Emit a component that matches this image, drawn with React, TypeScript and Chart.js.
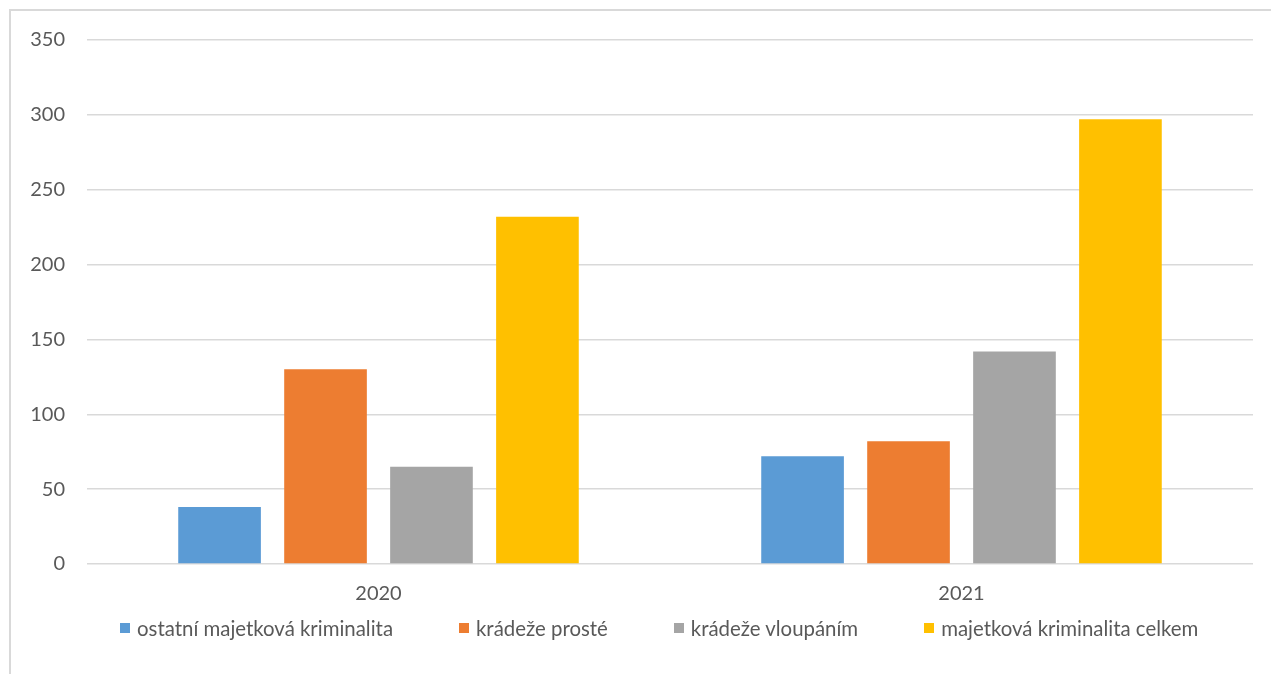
import React, { useEffect, useRef } from "react";
import { Chart, registerables } from "chart.js";

Chart.register(...registerables);

const categories = ["2020", "2021"];
const seriesNames = [
  "ostatní majetková kriminalita",
  "krádeže prosté",
  "krádeže vloupáním",
  "majetková kriminalita celkem",
];
const ostatni = [38, 72];
const kradezeProste = [130, 82];
const kradezeVloupanim = [65, 142];
const celkem = [232, 297];
const colors = ["#5b9bd5", "#ed7d31", "#a5a5a5", "#ffc000"];
const yMax = 350;
const yStep = 50;

const FONT_FAMILY = "Lato, 'Noto Sans', sans-serif";

export default function App() {
  const ref = useRef<HTMLCanvasElement | null>(null);
  useEffect(() => {
    if (!ref.current) return;
    const values = [ostatni, kradezeProste, kradezeVloupanim, celkem];
    const font = { family: FONT_FAMILY, size: 20 };
    const chart = new Chart(ref.current, {
      type: "bar",
      data: {
        labels: categories,
        datasets: seriesNames.map((name, i) => ({
          label: name,
          data: values[i],
          backgroundColor: colors[i],
          borderWidth: 0,
          categoryPercentage: 0.727,
          barPercentage: 0.78,
        })),
      },
      options: {
        animation: false,
        responsive: false,
        maintainAspectRatio: false,
        layout: { padding: { left: 10, right: 18, top: 40, bottom: 50 } },
        plugins: {
          tooltip: { enabled: false },
          legend: { display: false },
        },
        scales: {
          x: {
            grid: { display: false, drawTicks: false },
            border: { display: false },
            ticks: { color: "#595959", font, padding: 18 },
          },
          y: {
            min: 0,
            max: yMax,
            afterFit: (s: any) => {
              s.width = 77;
            },
            grid: { color: "#d9d9d9", lineWidth: 1.5, drawTicks: false },
            border: { display: false },
            ticks: { stepSize: yStep, color: "#595959", font, padding: 22 },
          },
        },
      },
    });
    return () => chart.destroy();
  }, []);
  return (
    <div style={{ position: "fixed", left: 0, top: 0, width: 1271, height: 674, background: "#fff" }}>
      <div
        style={{
          position: "absolute",
          left: 9,
          top: 9,
          width: 1262,
          height: 665,
          borderTop: "2px solid #d9d9d9",
          borderLeft: "2px solid #d9d9d9",
          boxSizing: "border-box",
        }}
      />
      <canvas ref={ref} width={1271} height={674} style={{ position: "absolute", left: 0, top: 0 }} />
      <div
        style={{
          position: "absolute",
          left: 120,
          top: 616,
          height: 24,
          display: "flex",
          alignItems: "center",
          gap: 66,
          fontFamily: FONT_FAMILY,
          fontSize: 20.4,
          lineHeight: "24px",
          color: "#595959",
          whiteSpace: "nowrap",
        }}
      >
        {seriesNames.map((name, i) => (
          <div key={name} style={{ display: "flex", alignItems: "center" }}>
            <span style={{ display: "inline-block", width: 10, height: 10, background: colors[i], marginRight: 7 }} />
            <span>{name}</span>
          </div>
        ))}
      </div>
    </div>
  );
}
